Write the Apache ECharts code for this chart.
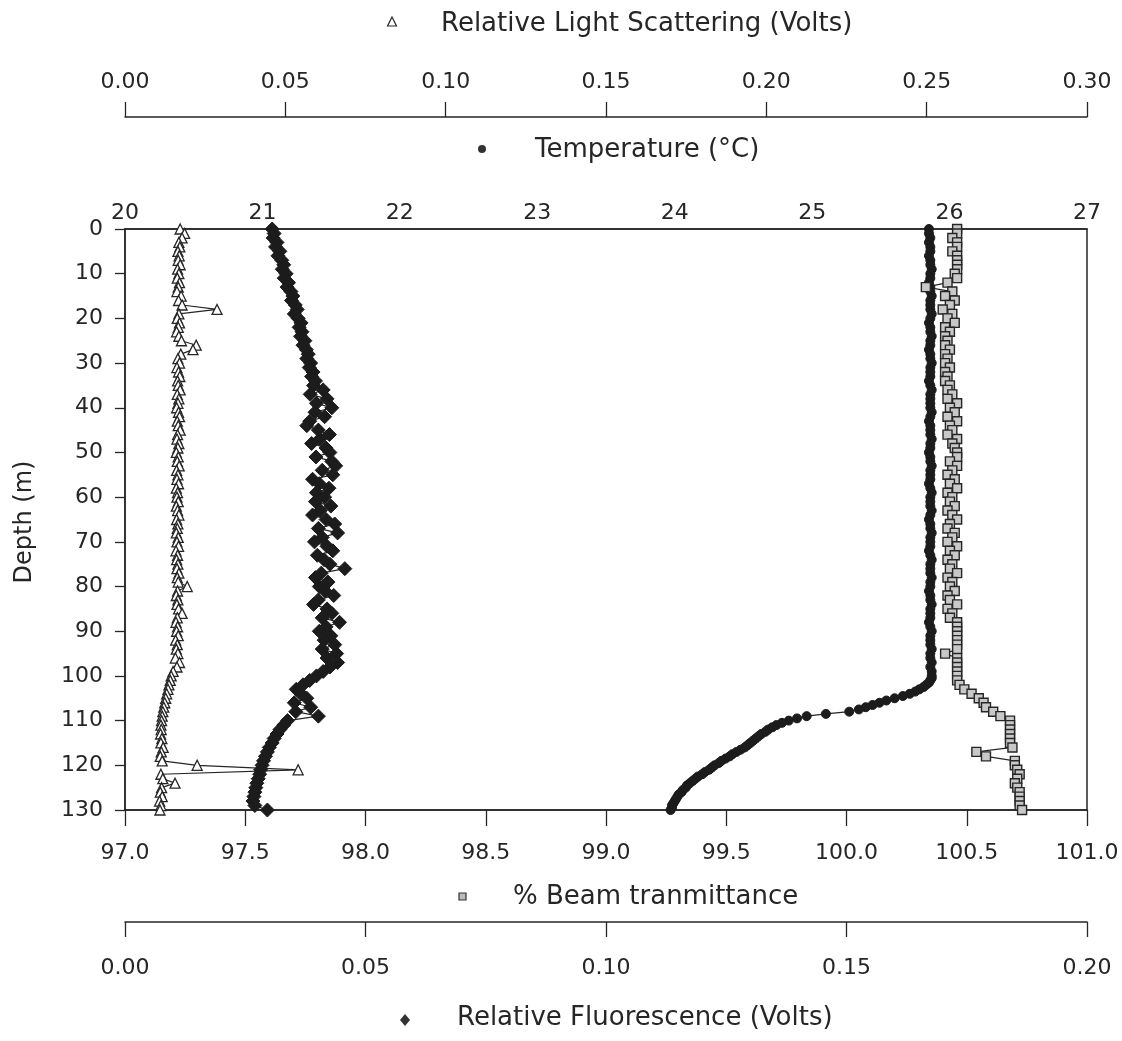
<!DOCTYPE html>
<html>
<head>
<meta charset="utf-8">
<script src="https://cdn.jsdelivr.net/npm/echarts@6/dist/echarts.min.js"></script>
<style>
html,body{margin:0;padding:0;background:#fff;}
#chart{width:1122px;height:1041px;}
</style>
</head>
<body>
<div id="chart"></div>
<script>
// ---------- DATA ----------
const depth = [0,1,2,3,4,5,6,7,8,9,10,11,12,13,14,15,16,17,18,19,20,21,22,23,24,25,26,27,28,29,30,31,32,33,34,35,36,37,38,39,40,41,42,43,44,45,46,47,48,49,50,51,52,53,54,55,56,57,58,59,60,61,62,63,64,65,66,67,68,69,70,71,72,73,74,75,76,77,78,79,80,81,82,83,84,85,86,87,88,89,90,91,92,93,94,95,96,97,98,99,100,101,102,103,104,105,106,107,108,109,110,111,112,113,114,115,116,117,118,119,120,121,122,123,124,125,126,127,128,129,130];

const scattering = [0.0172,0.0186,0.0178,0.0168,0.0171,0.0165,0.0169,0.0166,0.0172,0.0164,
0.0168,0.0163,0.0170,0.0166,0.0162,0.0175,0.0167,0.0178,0.0287,0.0168,
0.0163,0.0170,0.0166,0.0161,0.0168,0.0176,0.0222,0.0212,0.0174,0.0165,
0.0170,0.0162,0.0167,0.0171,0.0164,0.0166,0.0172,0.0163,0.0168,0.0165,
0.0161,0.0167,0.0170,0.0163,0.0166,0.0172,0.0164,0.0162,0.0168,0.0165,
0.0160,0.0166,0.0163,0.0169,0.0161,0.0165,0.0162,0.0167,0.0160,0.0164,
0.0162,0.0166,0.0160,0.0164,0.0168,0.0161,0.0165,0.0163,0.0160,0.0166,
0.0162,0.0167,0.0159,0.0164,0.0161,0.0165,0.0162,0.0168,0.0163,0.0166,
0.0194,0.0164,0.0160,0.0165,0.0162,0.0167,0.0178,0.0163,0.0159,0.0164,
0.0161,0.0166,0.0158,0.0163,0.0160,0.0165,0.0157,0.0170,0.0162,0.0150,
0.0144,0.0141,0.0137,0.0134,0.0130,0.0127,0.0124,0.0121,0.0118,0.0116,
0.0114,0.0112,0.0113,0.0111,0.0115,0.0112,0.0119,0.0113,0.0110,0.0116,
0.0225,0.0540,0.0112,0.0118,0.0156,0.0114,0.0110,0.0116,0.0108,0.0112,0.0109];

const fluorescence = [0.0306,0.0310,0.0308,0.0316,0.0313,0.0322,0.0318,0.0326,0.0330,0.0327,
0.0335,0.0331,0.0340,0.0337,0.0345,0.0349,0.0346,0.0354,0.0358,0.0352,
0.0360,0.0366,0.0362,0.0368,0.0365,0.0374,0.0370,0.0377,0.0381,0.0378,
0.0386,0.0383,0.0391,0.0388,0.0396,0.0392,0.0412,0.0385,0.0420,0.0398,
0.0430,0.0395,0.0415,0.0384,0.0378,0.0402,0.0425,0.0405,0.0388,0.0418,
0.0426,0.0397,0.0430,0.0438,0.0410,0.0432,0.0390,0.0404,0.0424,0.0398,
0.0415,0.0396,0.0428,0.0406,0.0390,0.0418,0.0436,0.0402,0.0442,0.0410,
0.0394,0.0420,0.0432,0.0400,0.0414,0.0426,0.0457,0.0408,0.0396,0.0422,
0.0404,0.0416,0.0434,0.0402,0.0392,0.0420,0.0430,0.0410,0.0446,0.0418,
0.0404,0.0428,0.0414,0.0436,0.0410,0.0440,0.0420,0.0442,0.0426,0.0412,
0.0398,0.0384,0.0370,0.0356,0.0366,0.0378,0.0352,0.0386,0.0355,0.0402,
0.0338,0.0330,0.0322,0.0316,0.0310,0.0306,0.0300,0.0296,0.0292,0.0288,
0.0285,0.0282,0.0280,0.0277,0.0274,0.0272,0.0270,0.0268,0.0266,0.0270,0.0296];

const beam = [100.46,100.46,100.44,100.46,100.46,100.44,100.46,100.46,100.46,100.46,
100.45,100.46,100.42,100.33,100.44,100.41,100.45,100.43,100.40,100.44,
100.42,100.45,100.41,100.43,100.41,100.42,100.41,100.43,100.41,100.42,
100.41,100.43,100.41,100.42,100.41,100.43,100.42,100.44,100.42,100.46,
100.43,100.45,100.42,100.46,100.43,100.44,100.42,100.46,100.44,100.45,
100.46,100.46,100.43,100.46,100.44,100.42,100.45,100.43,100.46,100.42,
100.44,100.43,100.45,100.42,100.44,100.46,100.43,100.42,100.45,100.44,
100.42,100.46,100.43,100.45,100.42,100.44,100.43,100.46,100.42,100.44,
100.43,100.45,100.42,100.43,100.46,100.42,100.44,100.43,100.46,100.46,
100.46,100.46,100.46,100.46,100.46,100.41,100.46,100.46,100.46,100.46,
100.46,100.46,100.47,100.49,100.52,100.55,100.57,100.58,100.61,100.64,
100.68,100.68,100.68,100.68,100.68,100.68,100.69,100.54,100.58,100.70,
100.70,100.71,100.72,100.71,100.70,100.71,100.72,100.72,100.72,100.72,100.73];

const tempDepth = [0,1,2,3,4,5,6,7,8,9,10,11,12,13,14,15,16,17,18,19,20,21,22,23,24,25,26,27,28,29,30,31,32,33,34,35,36,37,38,39,40,41,42,43,44,45,46,47,48,49,50,51,52,53,54,55,56,57,58,59,60,61,62,63,64,65,66,67,68,69,70,71,72,73,74,75,76,77,78,79,80,81,82,83,84,85,86,87,88,89,90,91,92,93,94,95,96,97,98,99,
100,100.5,101,101.5,102,102.5,103,103.5,104,104.5,105,105.5,106,106.5,107,107.5,108,108.5,109,109.5,110,110.5,111,111.5,112,112.5,113,113.5,114,114.5,115,115.5,116,116.5,117,117.5,118,118.5,119,119.5,120,120.5,121,121.5,122,122.5,123,123.5,124,124.5,125,125.5,126,126.5,127,127.5,128,128.5,129,129.5,130];

const temperature = [25.85,25.85,25.86,25.85,25.86,25.86,25.85,25.86,25.86,25.87,
25.86,25.86,25.85,25.86,25.86,25.87,25.86,25.86,25.86,25.87,
25.86,25.85,25.86,25.86,25.87,25.86,25.86,25.85,25.86,25.86,
25.87,25.86,25.86,25.86,25.85,25.86,25.87,25.86,25.86,25.86,
25.86,25.87,25.86,25.85,25.86,25.86,25.86,25.87,25.86,25.86,
25.85,25.86,25.86,25.87,25.86,25.86,25.86,25.85,25.86,25.87,
25.86,25.86,25.86,25.87,25.86,25.85,25.86,25.86,25.87,25.86,
25.86,25.86,25.85,25.86,25.87,25.86,25.86,25.86,25.87,25.86,
25.86,25.85,25.86,25.86,25.87,25.86,25.86,25.86,25.85,25.86,
25.87,25.86,25.86,25.86,25.87,25.86,25.86,25.87,25.86,25.87,
25.87,25.87,25.86,25.85,25.83,25.81,25.78,25.75,25.71,25.66,
25.60,25.54,25.49,25.44,25.39,25.34,25.27,25.10,24.96,24.89,
24.83,24.78,24.74,24.71,24.68,24.66,24.63,24.61,24.59,24.57,
24.55,24.53,24.51,24.48,24.45,24.42,24.40,24.37,24.34,24.32,
24.29,24.27,24.25,24.22,24.20,24.17,24.15,24.13,24.11,24.09,
24.08,24.06,24.05,24.03,24.02,24.01,24.00,23.99,23.98,23.98,23.97];

// ---------- CHART ----------
const FONT = '"DejaVu Sans", "Liberation Sans", sans-serif';
const INK = '#262626';
const chart = echarts.init(document.getElementById('chart'), null, {renderer: 'canvas'});

const lbl = (margin, fmt) => ({
  show: true, margin: margin, color: INK, fontFamily: FONT, fontSize: 22,
  interval: 0, showMinLabel: true, showMaxLabel: true, formatter: fmt
});
const axLine = {show: true, onZero: false, lineStyle: {color: INK, width: 1.5}};

function pairs(xs, ys) { return xs.map((v, i) => [v, ys[i]]); }

const option = {
  animation: false,
  backgroundColor: '#ffffff',
  grid: {left: 125, top: 229, width: 962, height: 581, show: true,
         borderColor: INK, borderWidth: 1.5, backgroundColor: 'transparent'},
  xAxis: [
    {type: 'value', position: 'top', min: 20, max: 27, interval: 1,
     axisLine: axLine, axisTick: {show: false}, splitLine: {show: false},
     axisLabel: lbl(5, v => String(v))},
    {type: 'value', position: 'bottom', min: 97, max: 101, interval: 0.5,
     axisLine: axLine, axisTick: {show: true, length: 16, lineStyle: {color: INK, width: 1.3}},
     splitLine: {show: false}, axisLabel: lbl(32, v => v.toFixed(1))},
    {type: 'value', position: 'top', offset: 112, min: 0, max: 0.3, interval: 0.05,
     axisLine: axLine, axisTick: {show: true, length: 15, lineStyle: {color: INK, width: 1.3}},
     splitLine: {show: false}, axisLabel: lbl(24, v => v.toFixed(2))},
    {type: 'value', position: 'bottom', offset: 112, min: 0, max: 0.2, interval: 0.05,
     axisLine: axLine, axisTick: {show: true, length: 15, lineStyle: {color: INK, width: 1.3}},
     splitLine: {show: false}, axisLabel: lbl(35, v => v.toFixed(2))}
  ],
  yAxis: [
    {type: 'value', inverse: true, min: 0, max: 130, interval: 10,
     axisLine: axLine, axisTick: {show: true, length: 10, lineStyle: {color: INK, width: 1.3}},
     splitLine: {show: false}, axisLabel: lbl(22, v => String(v))}
  ],
  series: [
    {name: 'Relative Light Scattering (Volts)', type: 'line', xAxisIndex: 2, yAxisIndex: 0,
     data: pairs(scattering, depth), symbol: 'triangle', symbolSize: 10, showSymbol: true,
     lineStyle: {color: INK, width: 1.2}, itemStyle: {color: '#ffffff', borderColor: INK, borderWidth: 1.3}},
    {name: 'Relative Fluorescence (Volts)', type: 'line', xAxisIndex: 3, yAxisIndex: 0,
     data: pairs(fluorescence, depth), symbol: 'diamond', symbolSize: 14, showSymbol: true,
     lineStyle: {color: INK, width: 1.2}, itemStyle: {color: '#1c1c1c', borderColor: '#1c1c1c', borderWidth: 1}},
    {name: 'Temperature (°C)', type: 'line', xAxisIndex: 0, yAxisIndex: 0,
     data: pairs(temperature, tempDepth), symbol: 'circle', symbolSize: 9, showSymbol: true,
     lineStyle: {color: INK, width: 1.2}, itemStyle: {color: '#1c1c1c', borderColor: '#1c1c1c', borderWidth: 1}},
    {name: '% Beam tranmittance', type: 'line', xAxisIndex: 1, yAxisIndex: 0,
     data: pairs(beam, depth), symbol: 'rect', symbolSize: 9, showSymbol: true,
     lineStyle: {color: INK, width: 1.2}, itemStyle: {color: '#c8c8c8', borderColor: INK, borderWidth: 1.4}}
  ],
  graphic: [
    {type: 'polygon', shape: {points: [[392, 17], [387.5, 26], [396.5, 26]]},
     style: {fill: '#fff', stroke: INK, lineWidth: 1.2}},
    {type: 'text', x: 441, y: 24, style: {text: 'Relative Light Scattering (Volts)', font: '26px ' + FONT,
     fill: INK, align: 'left', verticalAlign: 'middle'}},
    {type: 'circle', shape: {cx: 482, cy: 149, r: 4}, style: {fill: '#333'}},
    {type: 'text', x: 535, y: 150, style: {text: 'Temperature (°C)', font: '26px ' + FONT,
     fill: INK, align: 'left', verticalAlign: 'middle'}},
    {type: 'rect', shape: {x: 459, y: 893, width: 7, height: 7},
     style: {fill: '#bbb', stroke: '#333', lineWidth: 1.2}},
    {type: 'text', x: 513, y: 897, style: {text: '% Beam tranmittance', font: '26px ' + FONT,
     fill: INK, align: 'left', verticalAlign: 'middle'}},
    {type: 'polygon', shape: {points: [[405, 1014], [410, 1020], [405, 1026], [400, 1020]]},
     style: {fill: '#333'}},
    {type: 'text', x: 457, y: 1018, style: {text: 'Relative Fluorescence (Volts)', font: '26px ' + FONT,
     fill: INK, align: 'left', verticalAlign: 'middle'}},
    {type: 'text', x: 25, y: 522, rotation: Math.PI / 2, style: {text: 'Depth (m)', font: '24px ' + FONT,
     fill: INK, align: 'center', verticalAlign: 'middle'}}
  ]
};
chart.setOption(option);
</script>
</body>
</html>
